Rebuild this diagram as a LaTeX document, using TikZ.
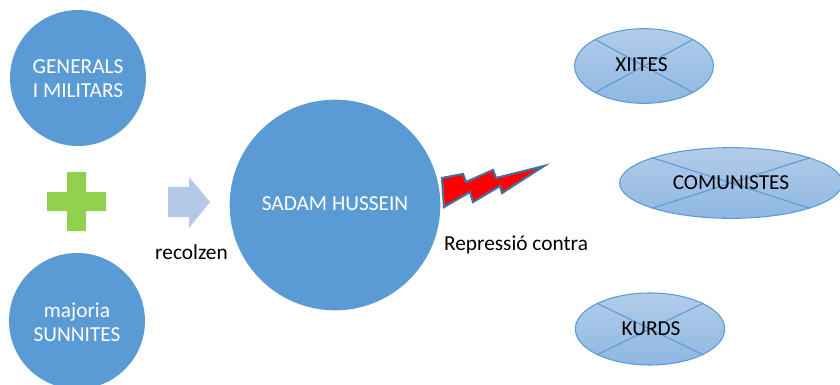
\documentclass[tikz,border=0pt]{standalone}
\usepackage{fontspec}
\setmainfont{Carlito}
\usetikzlibrary{shapes.geometric}
\definecolor{circ}{HTML}{5B9BD5}
\definecolor{circedge}{HTML}{5B9BD5}
\definecolor{elltop}{HTML}{B3CCEA}
\definecolor{ellbot}{HTML}{8FB7E2}
\definecolor{plusg}{HTML}{92D050}
\definecolor{arr}{HTML}{B4C9E7}
\definecolor{boltedge}{HTML}{41719C}
\tikzset{
  bigcirc/.style={circle,fill=circ,text=white,inner sep=0pt,align=center,font=\fontsize{16}{18}\selectfont},
  ell/.style={ellipse,draw=circedge,line width=.8pt,top color=elltop,bottom color=ellbot,inner sep=0pt},
  xline/.style={draw=circedge,line width=.8pt},
  lab/.style={inner sep=0pt,text=black,font=\fontsize{16}{18}\selectfont},
}
\begin{document}
\begin{tikzpicture}[x=0.75pt,y=-0.75pt]
\useasboundingbox (0,0) rectangle (840,385);
\clip (0,0) rectangle (840,385);
\node[bigcirc,minimum size=102pt] (gen) at (78,78) {};
\node[text=white,inner sep=0pt,align=center,font=\fontsize{16}{18}\selectfont] (gent) at (78,79) {GENERALS\\I MILITARS};
\node[bigcirc,minimum size=102pt] (maj) at (77,321) {};
\node[text=white,inner sep=0pt,align=center,font=\fontsize{16}{18}\selectfont] (majt) at (77,322) {majoria\\SUNNITES};
\node[bigcirc,minimum size=158pt] (sad) at (335,205) {};
\node[text=white,inner sep=0pt,font=\fontsize{16}{18}\selectfont] (sadt) at (335,204) {SADAM HUSSEIN};
\fill[plusg] (67,172) -- (86,172) -- (86,192) -- (106,192) -- (106,211) -- (86,211) -- (86,231) -- (67,231) -- (67,211) -- (47,211) -- (47,192) -- (67,192) -- cycle;
\fill[arr] (168,187) -- (189,187) -- (189,177) -- (210,202) -- (189,228) -- (189,217) -- (168,217) -- cycle;
\node[lab] (rec) at (191.5,252) {recolzen};
\node[lab] (rep) at (516,245) {Repressió contra};
\draw[fill=red,draw=boltedge,line width=1.6pt,miter limit=20]
 (442,178) -- (463,174) -- (466,182) -- (493,170) -- (496,178) -- (544,166) -- (502,193) -- (500,186) -- (473,202) -- (470,192) -- (444,207) -- cycle;
\node[ell,minimum width=104pt,minimum height=56pt] (xi) at (644,66) {};
\draw[xline] (xi.north west) -- (xi.south east);
\draw[xline] (xi.north east) -- (xi.south west);
\node[lab] (xit) at (641.5,65) {XIITES};
\node[ell,minimum width=167pt,minimum height=53pt] (co) at (731,183) {};
\draw[xline] (co.north west) -- (co.south east);
\draw[xline] (co.north east) -- (co.south west);
\node[lab] (cot) at (731,183) {COMUNISTES};
\node[ell,minimum width=112pt,minimum height=54pt] (ku) at (650,329) {};
\draw[xline] (ku.north west) -- (ku.south east);
\draw[xline] (ku.north east) -- (ku.south west);
\node[lab] (kut) at (651,329) {KURDS};
\end{tikzpicture}
\end{document}
